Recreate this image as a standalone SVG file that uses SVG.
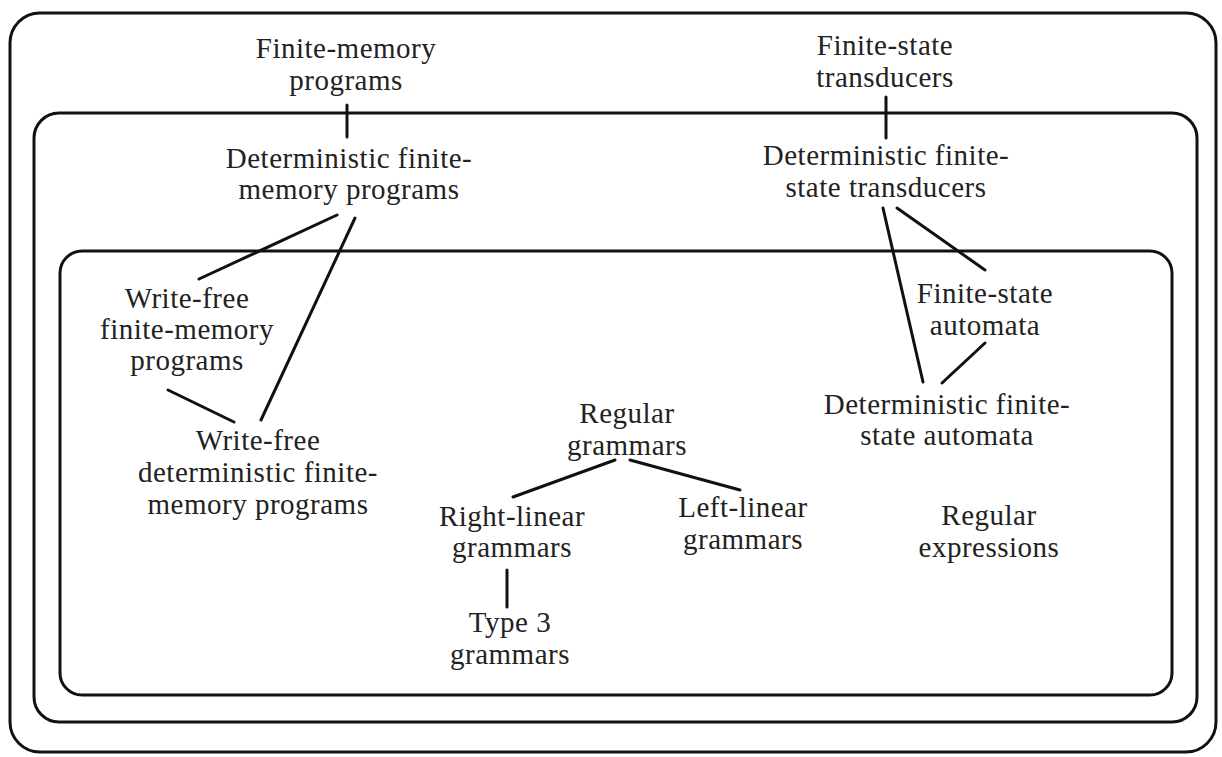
<svg xmlns="http://www.w3.org/2000/svg" width="1222" height="757" viewBox="0 0 1222 757">
<style>
.box{fill:none;stroke:#111;stroke-width:3}
.ln{stroke:#111;stroke-width:3;stroke-linecap:round}
text{font-family:"Liberation Serif","Times New Roman",serif;font-size:29px;letter-spacing:0.5px;fill:#222;text-anchor:middle}
</style>
<rect width="1222" height="757" fill="#fff"/>
<g id="regions">
<rect id="outer" class="box" x="10" y="13" width="1206" height="739" rx="30"/>
<rect id="middle" class="box" x="34" y="113" width="1163" height="609" rx="25"/>
<rect id="inner" class="box" x="60" y="251" width="1112" height="444" rx="22"/>
</g>
<g id="connectors">
<line class="ln" x1="347" y1="105" x2="347" y2="137"/>
<line class="ln" x1="886" y1="97" x2="886" y2="138"/>
<line class="ln" x1="337" y1="215" x2="199" y2="279"/>
<line class="ln" x1="355" y1="218" x2="261" y2="420"/>
<line class="ln" x1="168" y1="390" x2="234" y2="422"/>
<line class="ln" x1="883" y1="208" x2="923" y2="382"/>
<line class="ln" x1="897" y1="208" x2="985" y2="270"/>
<line class="ln" x1="985" y1="343" x2="942" y2="383"/>
<line class="ln" x1="615" y1="460" x2="513" y2="497"/>
<line class="ln" x1="630" y1="460" x2="740" y2="490"/>
<line class="ln" x1="507" y1="570" x2="507" y2="607"/>
</g>
<g id="n-fmp"><text x="346" y="58">Finite-memory</text><text x="346" y="90">programs</text></g>
<g id="n-fst"><text x="885" y="55">Finite-state</text><text x="885" y="87">transducers</text></g>
<g id="n-dfmp"><text x="349" y="168">Deterministic finite-</text><text x="349" y="199">memory programs</text></g>
<g id="n-dfst"><text x="886" y="165">Deterministic finite-</text><text x="886" y="197">state transducers</text></g>
<g id="n-wffmp"><text x="187" y="308">Write-free</text><text x="187" y="339">finite-memory</text><text x="187" y="370">programs</text></g>
<g id="n-wfdfmp"><text x="258" y="450">Write-free</text><text x="258" y="482">deterministic finite-</text><text x="258" y="514">memory programs</text></g>
<g id="n-fsa"><text x="985" y="303">Finite-state</text><text x="985" y="335">automata</text></g>
<g id="n-dfsa"><text x="947" y="414">Deterministic finite-</text><text x="947" y="445">state automata</text></g>
<g id="n-rg"><text x="627" y="423">Regular</text><text x="627" y="455">grammars</text></g>
<g id="n-rlg"><text x="512" y="526">Right-linear</text><text x="512" y="557">grammars</text></g>
<g id="n-llg"><text x="743" y="517">Left-linear</text><text x="743" y="549">grammars</text></g>
<g id="n-t3"><text x="510" y="632">Type 3</text><text x="510" y="664">grammars</text></g>
<g id="n-re"><text x="989" y="525">Regular</text><text x="989" y="557">expressions</text></g>
</svg>
